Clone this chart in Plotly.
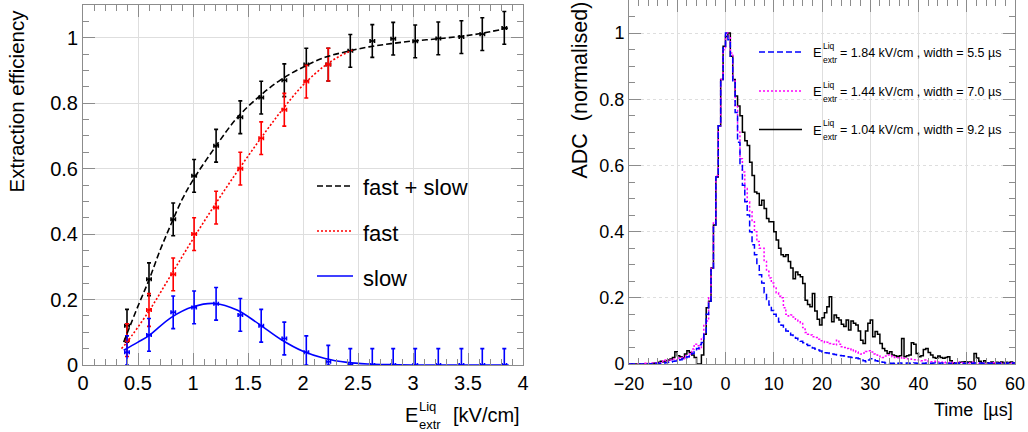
import numpy as np
import plotly.graph_objects as go

# ---- left panel: extraction efficiency vs field ----
field_pts = [0.40, 0.60, 0.82, 1.01, 1.21, 1.43, 1.62, 1.83, 2.03, 2.23,
             2.43, 2.63, 2.82, 3.02, 3.23, 3.44, 3.63, 3.83]
eff_total = [0.12, 0.262, 0.445, 0.578, 0.67, 0.757, 0.817, 0.87, 0.918, 0.918,
             0.96, 0.99, 0.997, 0.989, 0.998, 1.002, 1.011, 1.03]
eff_fast = [0.076, 0.168, 0.277, 0.40, 0.481, 0.60, 0.693, 0.78, 0.866, 0.918]
eff_slow = [0.039, 0.092, 0.161, 0.176, 0.187, 0.153, 0.12, 0.081, 0.039, 0.01,
            0.0, 0.0, 0.0, 0.0, 0.0, 0.0, 0.0, 0.0]
eff_err = 0.05
field_err = 0.02

# fitted curves
fit_x_total = [0.37, 0.5, 0.6, 0.7, 0.8, 0.9, 1.0, 1.2, 1.4, 1.6, 1.8, 2.0, 2.2,
               2.4, 2.6, 2.8, 3.0, 3.2, 3.4, 3.6, 3.87]
fit_y_total = [0.07, 0.18, 0.26, 0.35, 0.43, 0.505, 0.565, 0.665, 0.755, 0.82, 0.872,
               0.91, 0.94, 0.958, 0.972, 0.982, 0.99, 0.996, 1.003, 1.012, 1.03]
fit_x_fast = [0.35, 0.4, 0.6, 0.8, 1.0, 1.2, 1.4, 1.6, 1.8, 2.0, 2.2, 2.33, 2.45]
fit_y_fast = [0.05, 0.07, 0.165, 0.275, 0.385, 0.49, 0.59, 0.685, 0.775, 0.855,
              0.915, 0.943, 0.962]
fit_x_slow = [0.37, 0.5, 0.6, 0.8, 1.0, 1.2, 1.4, 1.6, 1.8, 2.0, 2.2, 2.4, 2.6,
              2.8, 3.0, 3.5, 3.87]
fit_y_slow = [0.045, 0.07, 0.09, 0.145, 0.178, 0.188, 0.168, 0.125, 0.078, 0.042,
              0.02, 0.008, 0.003, 0.001, 0.0, 0.0, 0.0]

# ---- right panel: normalised ADC waveforms, 0.5 us bins from -20 to 60 ----
t_edges = np.arange(-20, 60.5, 0.5)

adc_184 = [0, 0, 0, 0, 0, 0, 0, 0, 0.001, 0.001,
           0.001, 0.002, 0.002, 0.002, 0.003, 0.004, 0.005, 0.006, 0.008, 0.009,
           0.011, 0.013, 0.016, 0.019, 0.022, 0.027, 0.032, 0.038, 0.047, 0.058,
           0.065, 0.09, 0.15, 0.19, 0.29, 0.42, 0.565, 0.72, 0.86, 0.96,
           1.0, 0.98, 0.93, 0.85, 0.76, 0.67, 0.6, 0.54, 0.49, 0.45,
           0.4, 0.36, 0.33, 0.3, 0.27, 0.245, 0.215, 0.195, 0.178, 0.162,
           0.15, 0.138, 0.127, 0.117, 0.108, 0.1, 0.093, 0.088, 0.083, 0.078,
           0.073, 0.069, 0.064, 0.06, 0.056, 0.052, 0.048, 0.045, 0.042, 0.039,
           0.036, 0.034, 0.033, 0.032, 0.03, 0.029, 0.027, 0.026, 0.025, 0.024,
           0.022, 0.021, 0.02, 0.019, 0.018, 0.016, 0.015, 0.01, 0.007, 0.012,
           0.016, 0.013, 0.01, 0.008, 0.006, 0.005, 0.003, 0.003, 0.002, 0.002,
           0.003, 0.002, 0.003, 0.002, 0.002, 0.003, 0.002, 0.002, 0.003, 0.002,
           0.003, 0.002, 0.002, 0.003, 0.002, 0.002, 0.003, 0.002, 0.002, 0.003,
           0.002, 0.003, 0.002, 0.002, 0.003, 0.002, 0.002, 0.003, 0.002, 0.002,
           0.003, 0.002, 0.002, 0.003, 0.002, 0.003, 0.002, 0.002, 0.003, 0.002,
           0.002, 0.003, 0.002, 0.002, 0.003, 0.002, 0.002, 0.003, 0.002, 0.003]

adc_144 = [0, 0, 0, 0, 0.001, 0.001, 0.002, 0.001, 0.002, 0.003,
           0.003, 0.004, 0.004, 0.006, 0.01, 0.012, 0.008, 0.012, 0.015, 0.012,
           0.018, 0.02, 0.016, 0.025, 0.022, 0.03, 0.045, 0.06, 0.055, 0.045,
           0.08, 0.12, 0.13, 0.2, 0.29, 0.43, 0.57, 0.72, 0.86, 0.95,
           1.0, 0.99, 0.94, 0.86, 0.78, 0.7, 0.62, 0.58, 0.53, 0.49,
           0.46, 0.43, 0.4, 0.37, 0.35, 0.35, 0.31, 0.28, 0.26, 0.245,
           0.23, 0.215, 0.205, 0.2, 0.17, 0.15, 0.145, 0.148, 0.142, 0.135,
           0.13, 0.125, 0.11, 0.095, 0.09, 0.088, 0.082, 0.08, 0.075, 0.07,
           0.068, 0.065, 0.066, 0.062, 0.06, 0.058, 0.072, 0.06, 0.052, 0.05,
           0.047, 0.045, 0.04, 0.042, 0.036, 0.033, 0.03, 0.033, 0.038, 0.04,
           0.036, 0.03, 0.027, 0.024, 0.022, 0.02, 0.024, 0.027, 0.025, 0.022,
           0.02, 0.019, 0.018, 0.02, 0.017, 0.016, 0.015, 0.014, 0.013, 0.012,
           0.011, 0.01, 0.012, 0.009, 0.008, 0.007, 0.008, 0.006, 0.006, 0.005,
           0.006, 0.004, 0.004, 0.005, 0.003, 0.004, 0.005, 0.003, 0.004, 0.003,
           0.004, 0.003, 0.005, 0.003, 0.004, 0.003, 0.003, 0.004, 0.002, 0.003,
           0.003, 0.004, 0.002, 0.003, 0.003, 0.002, 0.003, 0.002, 0.003, 0.002]

adc_104 = [0, 0, 0, 0, 0, 0, 0, 0, 0.001, 0.001,
           0.002, 0.004, 0.005, 0.008, 0.006, 0.01, 0.012, 0.015, 0.02, 0.037,
           0.025, 0.022, 0.018, 0.03, 0.04, 0.035, 0.027, 0.02, 0.0, 0.0,
           0.027, 0.09, 0.17, 0.19, 0.29, 0.42, 0.565, 0.72, 0.86, 0.96,
           0.99, 1.0, 0.93, 0.86, 0.81, 0.78, 0.75, 0.7, 0.675, 0.66,
           0.61, 0.57, 0.52, 0.515, 0.48, 0.495, 0.47, 0.44, 0.43, 0.43,
           0.4, 0.375, 0.35, 0.33, 0.325, 0.33, 0.31, 0.29, 0.258, 0.278,
           0.27, 0.264, 0.243, 0.193, 0.18, 0.173, 0.213, 0.16, 0.135, 0.118,
           0.14, 0.155, 0.173, 0.203, 0.128, 0.148, 0.14, 0.133, 0.12, 0.113,
           0.133, 0.103, 0.13, 0.123, 0.118, 0.1, 0.072, 0.062, 0.1, 0.123,
           0.133, 0.082, 0.098, 0.09, 0.062, 0.047, 0.04, 0.032, 0.037, 0.027,
           0.025, 0.022, 0.025, 0.077, 0.022, 0.025, 0.027, 0.064, 0.06, 0.032,
           0.022, 0.025, 0.044, 0.047, 0.035, 0.027, 0.02, 0.017, 0.024, 0.02,
           0.017, 0.02, 0.022, 0.01, 0.002, 0.004, 0.004, 0.005, 0.006, 0.007,
           0.005, 0.006, 0.004, 0.032, 0.018, 0.008, 0.003, 0.01, 0.004, 0.003,
           0.006, 0.002, 0.005, 0.004, 0.006, 0.003, 0.005, 0.004, 0.006, 0.003]

wave_labels = ["= 1.84 kV/cm , width = 5.5 \u00b5s",
               "= 1.44 kV/cm , width = 7.0 \u00b5s",
               "= 1.04 kV/cm , width = 9.2 \u00b5s"]

FONT = "Liberation Sans, Arial, Helvetica, sans-serif"
W, H = 1028, 432
AX_COL = "#8c8c8c"
GRID_COL = "#dedede"
DASH = "6px,3px"
DOT = "2px,2px"


def px(x):
    return x / W


def py(y):
    return 1 - y / H


fig = go.Figure()

# left: data points with error bars
def add_points(xs, ys, color):
    fig.add_trace(go.Scatter(
        x=xs, y=ys, mode="markers", xaxis="x", yaxis="y",
        marker=dict(size=2, color=color),
        error_y=dict(type="data", array=[eff_err] * len(ys),
                     arrayminus=[min(eff_err, v) for v in ys],
                     color=color, thickness=1.6, width=2),
        error_x=dict(type="data", array=[field_err] * len(ys),
                     color=color, thickness=1.6, width=2),
        showlegend=False, hoverinfo="skip"))


add_points(field_pts, eff_total, "black")
add_points(field_pts[:len(eff_fast)], eff_fast, "#ff0000")
add_points(field_pts, eff_slow, "#0000ff")

fig.add_trace(go.Scatter(x=fit_x_total, y=fit_y_total, mode="lines", xaxis="x", yaxis="y",
                         line=dict(color="black", width=1.6, dash=DASH, shape="spline"),
                         showlegend=False))
fig.add_trace(go.Scatter(x=fit_x_fast, y=fit_y_fast, mode="lines", xaxis="x", yaxis="y",
                         line=dict(color="#ff0000", width=1.6, dash=DOT, shape="spline"),
                         showlegend=False))
fig.add_trace(go.Scatter(x=fit_x_slow, y=fit_y_slow, mode="lines", xaxis="x", yaxis="y",
                         line=dict(color="#0000ff", width=1.6, shape="spline"),
                         showlegend=False))

# right: step histograms
t_step = list(t_edges)
for vals, color, dash in [(adc_104, "black", "solid"),
                          (adc_144, "#ff00ff", DOT),
                          (adc_184, "#0000ff", DASH)]:
    fig.add_trace(go.Scatter(x=t_step, y=list(vals) + [vals[-1]], mode="lines",
                             xaxis="x2", yaxis="y2",
                             line=dict(color=color, width=1.5, dash=dash, shape="hv"),
                             showlegend=False, hoverinfo="skip"))

axis_common = dict(showline=True, linecolor=AX_COL, linewidth=1, mirror="ticks",
                   ticks="inside", ticklen=12, tickcolor=AX_COL, tickwidth=1,
                   showgrid=True, gridcolor=GRID_COL, gridwidth=1, zeroline=False,
                   automargin=False,
                   tickfont=dict(family=FONT, color="black"))

fig.update_layout(
    width=W, height=H, margin=dict(l=0, r=0, t=0, b=0, autoexpand=False),
    paper_bgcolor="white", plot_bgcolor="white",
    font=dict(family=FONT, color="black"),
    xaxis=dict(axis_common, domain=[px(83), px(523)], range=[0, 4], dtick=0.5,
               tickfont=dict(family=FONT, size=20, color="black"),
               minor=dict(dtick=0.1, ticklen=6, tickcolor=AX_COL, ticks="inside", showgrid=False),
               anchor="y"),
    yaxis=dict(axis_common, domain=[1 - 365 / H, 1 - 5 / H], range=[0, 1.1], dtick=0.2,
               tickfont=dict(family=FONT, size=20, color="black"),
               minor=dict(dtick=0.05, ticklen=6, tickcolor=AX_COL, ticks="inside", showgrid=False),
               anchor="x"),
    xaxis2=dict(axis_common, domain=[px(629), px(1015)], range=[-20, 60], dtick=10,
                tickfont=dict(family=FONT, size=18, color="black"),
                ticklabelstandoff=3,
                minor=dict(dtick=2, ticklen=6, tickcolor=AX_COL, ticks="inside", showgrid=False),
                anchor="y2"),
    yaxis2=dict(axis_common, domain=[1 - 364 / H, 1.0], range=[0, 1.1], dtick=0.2,
                griddash="dot",
                tickfont=dict(family=FONT, size=18, color="black"),
                minor=dict(dtick=0.05, ticklen=6, tickcolor=AX_COL, ticks="inside", showgrid=False),
                anchor="x2"),
)

annotations = []
shapes = []


def text(x, y, s, size, xanchor="left", yanchor="middle", angle=0):
    annotations.append(dict(x=px(x), y=py(y), xref="paper", yref="paper", text=s,
                            showarrow=False, xanchor=xanchor, yanchor=yanchor,
                            textangle=angle, font=dict(family=FONT, size=size, color="black")))


def e_liq_extr(x, y, big, small, gap):
    # E with stacked Liq / extr indices
    text(x, y, "E", big)
    e_w = big * 0.667
    text(x + e_w + 1, y - gap, "Liq", small)
    text(x + e_w + 1, y + gap, "extr", small)


# axis titles
text(16, 8, "Extraction efficiency", 20.5, xanchor="center", yanchor="top", angle=-90)
e_liq_extr(403, 415, 20, 13, 9)
text(522, 415, "[kV/cm]", 20, xanchor="right")
text(579, 0, "ADC&nbsp; (normalised)", 21.5, xanchor="center", yanchor="top", angle=-90)
text(1015, 410, "Time&nbsp; [\u00b5s]", 18, xanchor="right")

# left legend
leg_left = [("black", DASH, "fast + slow", 186),
            ("#ff0000", DOT, "fast", 231),
            ("#0000ff", "solid", "slow", 276)]
for color, dash, label, y in leg_left:
    shapes.append(dict(type="line", xref="paper", yref="paper",
                       x0=px(317), x1=px(353), y0=py(y), y1=py(y),
                       line=dict(color=color, width=1.6, dash=dash)))
    text(361, y + 2, label, 22)

# right legend
leg_right = [("#0000ff", DASH, 0, 52), ("#ff00ff", DOT, 1, 91), ("black", "solid", 2, 129.5)]
for color, dash, i, y in leg_right:
    shapes.append(dict(type="line", xref="paper", yref="paper",
                       x0=px(759), x1=px(802), y0=py(y), y1=py(y),
                       line=dict(color=color, width=1.5, dash=dash)))
    e_liq_extr(811, y + 0.5, 13, 8.5, 7)
    text(838, y + 1, wave_labels[i], 12.5)

fig.update_layout(annotations=annotations, shapes=shapes)

# page body margin would shift the figure by 8px
fig.write_html("out.html", config={"displayModeBar": False},
               post_script="document.body.style.margin='0';document.body.style.overflow='hidden';")
